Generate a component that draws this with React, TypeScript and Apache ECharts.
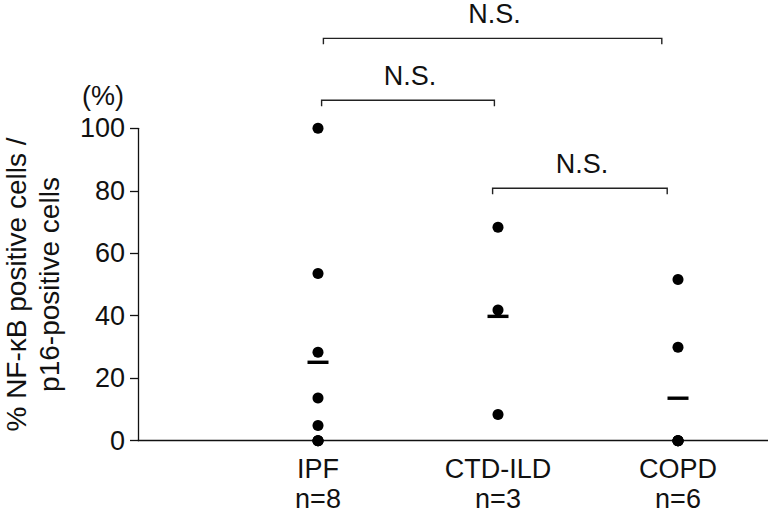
import React, { useEffect, useRef } from "react";
import * as echarts from "echarts";

const categories = ["IPF", "CTD-ILD", "COPD"];
const groupSizes = ["n=8", "n=3", "n=6"];
const ipfValues = [100, 53.5, 28.3, 13.7, 4.9, 0, 0, 0];
const ctdValues = [68.3, 41.8, 8.4];
const copdValues = [51.6, 29.9, 0, 0, 0, 0];
const meanValues = [25.1, 39.8, 13.6];
const yTicks = [0, 20, 40, 60, 80, 100];
// comparisons: [from group pos, to group pos, level (y units), label]
const comparisons: [number, number, number, string][] = [
  [1.03, 2.91, 128.8, "N.S."],
  [1.02, 1.98, 109, "N.S."],
  [1.97, 2.94, 80.8, "N.S."],
];

const FONT = "'Liberation Sans', Arial, Helvetica, sans-serif";

export default function App() {
  const ref = useRef<HTMLDivElement>(null);
  useEffect(() => {
    const chart = echarts.init(ref.current!, null, { renderer: "svg" });
    const groups = [ipfValues, ctdValues, copdValues];
    const pointData: number[][] = [];
    groups.forEach((vals, i) => vals.forEach((v) => pointData.push([i + 1, v])));
    chart.setOption({
      animation: false,
      backgroundColor: "#ffffff",
      grid: { left: 138, right: 0, top: 128.3, bottom: 79.3, containLabel: false, outerBoundsMode: "none" },
      xAxis: {
        type: "value",
        min: 0,
        max: 3.5,
        interval: 1,
        splitLine: { show: false },
        axisTick: { show: false },
        axisLine: { lineStyle: { color: "#111", width: 1.3 } },
        axisLabel: {
          margin: 13,
          color: "#111",
          fontFamily: FONT,
          fontSize: 27,
          lineHeight: 30,
          formatter: (v: number) => {
            const i = Math.round(v) - 1;
            if (i < 0 || i >= categories.length || Math.abs(v - i - 1) > 1e-6) return "";
            return categories[i] + "\n" + groupSizes[i];
          },
        },
      },
      yAxis: {
        type: "value",
        min: 0,
        max: 100,
        interval: 20,
        splitLine: { show: false },
        axisLine: { show: true, lineStyle: { color: "#111", width: 1.3 } },
        axisTick: { show: true, length: 8, lineStyle: { color: "#111", width: 1.3 } },
        axisLabel: {
          margin: 13,
          color: "#111",
          fontFamily: FONT,
          fontSize: 27,
          formatter: (v: number) => (yTicks.includes(v) ? String(v) : ""),
        },
        name: "% NF-κB positive cells /\np16-positive cells",
        nameLocation: "middle",
        nameRotate: 90,
        nameGap: 72,
        nameTextStyle: { color: "#111", fontFamily: FONT, fontSize: 28, lineHeight: 33 },
      },
      series: [
        {
          type: "scatter",
          data: pointData,
          symbol: "circle",
          symbolSize: 11,
          clip: false,
          itemStyle: { color: "#000", opacity: 1 },
          z: 3,
        },
        {
          type: "scatter",
          data: meanValues.map((m, i) => [i + 1, m]),
          symbol: "rect",
          symbolSize: [21, 3.4],
          clip: false,
          itemStyle: { color: "#000", opacity: 1 },
          z: 2,
        },
      ],
    });

    const graphics: any[] = [
      {
        type: "text",
        x: 103,
        y: 96,
        style: { text: "(%)", font: `27px ${FONT}`, fill: "#111", align: "center", verticalAlign: "middle" },
      },
    ];
    comparisons.forEach(([a, b, lvl, label]) => {
      const p1 = chart.convertToPixel({ gridIndex: 0 }, [a, lvl]) as number[];
      const p2 = chart.convertToPixel({ gridIndex: 0 }, [b, lvl]) as number[];
      graphics.push({
        type: "polyline",
        shape: { points: [[p1[0], p1[1] + 6], [p1[0], p1[1]], [p2[0], p1[1]], [p2[0], p1[1] + 6]] },
        style: { stroke: "#222", lineWidth: 1.4, fill: null },
      });
      graphics.push({
        type: "text",
        x: (p1[0] + p2[0]) / 2 + 2,
        y: p1[1] - 24,
        style: { text: label, font: `27px ${FONT}`, fill: "#111", align: "center", verticalAlign: "middle" },
      });
    });
    chart.setOption({ graphic: graphics });
    return () => chart.dispose();
  }, []);
  return <div ref={ref} style={{ width: 768, height: 520, position: "absolute", left: 0, top: 0 }} />;
}
